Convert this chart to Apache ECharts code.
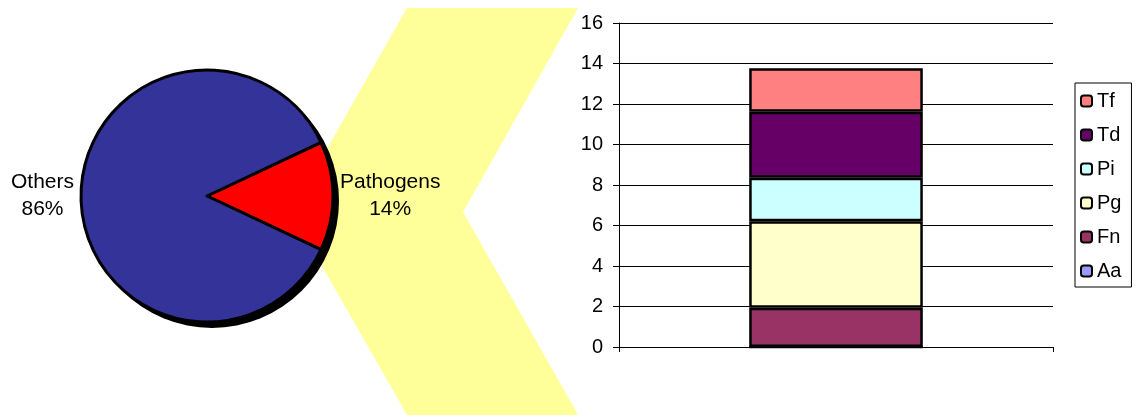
<!DOCTYPE html>
<html>
<head>
<meta charset="utf-8">
<script src="https://cdn.jsdelivr.net/npm/echarts@6/dist/echarts.min.js"></script>
<style>
  html, body { margin: 0; padding: 0; background: #fff; }
  #chart { width: 1139px; height: 415px; }
</style>
</head>
<body>
<div id="chart"></div>
<script>
// pie: share of pathogens among all taxa
const pieNames = ['Pathogens', 'Others'];
const pieValues = [14, 86];
const pieColors = ['#FF0000', '#333399'];

// stacked bar: breakdown of pathogens
const barCategories = [''];
const barSeriesNames = ['Aa', 'Fn', 'Pg', 'Pi', 'Td', 'Tf'];
const barValues = {
  Aa: [0],
  Fn: [1.94],
  Pg: [4.27],
  Pi: [2.15],
  Td: [3.26],
  Tf: [2.14]
};
const barColors = {
  Aa: '#9999FF',
  Fn: '#993366',
  Pg: '#FFFFCC',
  Pi: '#CCFFFF',
  Td: '#660066',
  Tf: '#FF8080'
};
const legendOrder = ['Tf', 'Td', 'Pi', 'Pg', 'Fn', 'Aa'];

const font = 'Liberation Sans';

const chart = echarts.init(document.getElementById('chart'));

const barSeries = barSeriesNames.map((name) => ({
  name: name,
  type: 'bar',
  stack: 'total',
  barWidth: '40%',
  data: barValues[name],
  itemStyle: {
    color: barColors[name],
    borderColor: '#000',
    borderWidth: 2.5
  },
  emphasis: { disabled: true }
}));

const options = {
  animation: false,
  textStyle: { fontFamily: font },
  graphic: [
    {
      // yellow chevron behind the pie
      type: 'polygon',
      z: 0,
      shape: {
        points: [[407, 8], [578, 8], [463, 212], [581, 420], [410, 420], [291, 212]]
      },
      style: { fill: '#FFFF99' },
      silent: true
    },
    {
      // pie drop shadow
      type: 'circle',
      z: 1,
      shape: { cx: 212, cy: 201, r: 127 },
      style: { fill: '#000' },
      silent: true
    }
  ],
  legend: {
    orient: 'vertical',
    left: 1075,
    top: 83,
    data: legendOrder,
    itemWidth: 11,
    itemHeight: 11,
    itemGap: 14,
    padding: [8, 10, 6, 5],
    borderColor: '#000',
    borderWidth: 1,
    backgroundColor: '#fff',
    selectedMode: false,
    textStyle: { fontFamily: font, fontSize: 20, color: '#000' },
    itemStyle: { borderColor: '#000', borderWidth: 2 }
  },
  grid: {
    left: 619,
    right: 86,
    top: 23,
    bottom: 68
  },
  xAxis: {
    type: 'category',
    data: barCategories,
    axisLine: { lineStyle: { color: '#000', width: 1 } },
    axisTick: { show: true, length: 5, lineStyle: { color: '#000' } },
    axisLabel: { show: false },
    splitLine: { show: false }
  },
  yAxis: {
    type: 'value',
    min: 0,
    max: 16,
    interval: 2,
    axisLine: { show: true, lineStyle: { color: '#000', width: 1 } },
    axisTick: { show: true, length: 6, lineStyle: { color: '#000' } },
    axisLabel: { color: '#000', fontSize: 20, fontFamily: font, margin: 16 },
    splitLine: { show: true, lineStyle: { color: '#000', width: 1 } }
  },
  series: [
    {
      name: 'share',
      type: 'pie',
      center: [207, 196],
      radius: 126,
      startAngle: 25.2,
      clockwise: true,
      avoidLabelOverlap: false,
      data: pieNames.map((n, i) => ({
        name: n,
        value: pieValues[i],
        itemStyle: { color: pieColors[i] }
      })),
      itemStyle: { borderColor: '#000', borderWidth: 3 },
      label: {
        show: true,
        position: 'outside',
        distanceToLabelLine: 7,
        formatter: '{t|{b}\n{d}%}',
        rich: {
          t: { fontSize: 21, fontFamily: font, color: '#000', align: 'center', lineHeight: 27 }
        }
      },
      labelLine: { show: false, length: 0, length2: 0 },
      emphasis: { disabled: true }
    },
    ...barSeries
  ]
};

chart.setOption(options);

window.addEventListener('resize', () => {
  chart.resize();
});
</script>
</body>
</html>
